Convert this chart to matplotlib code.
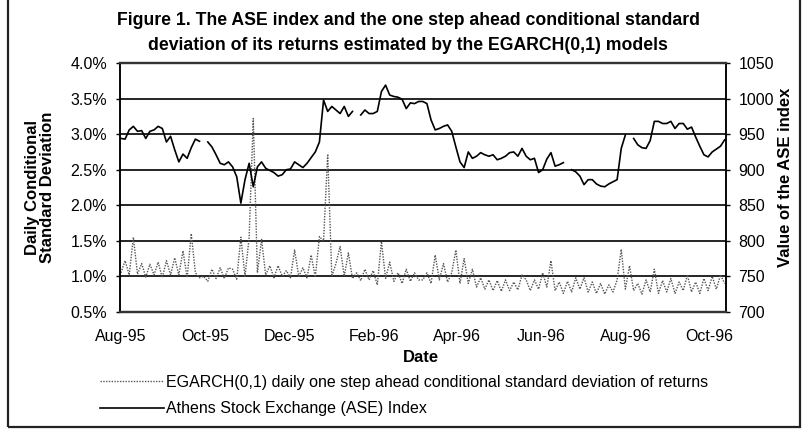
import numpy as np
import pandas as pd
import matplotlib
matplotlib.use("Agg")
import matplotlib.pyplot as plt
import matplotlib.dates as mdates
from matplotlib.ticker import FuncFormatter, MultipleLocator
from matplotlib.patches import Rectangle

plt.rcParams['font.family'] = ['Liberation Sans', 'DejaVu Sans']

# observation dates (read every ~3 days off the chart)
dates = pd.date_range('1995-08-01', periods=147, freq='3D')

# Athens Stock Exchange index (right axis), nan = gap in the line
ase = [944, 943, 956, 961, 954, 955, 944, 954, 956, 961,
       958, 939, 947, 928, 911, 922, 916, 931, 943, 940,
       np.nan, 939, 932, 921, 909, 907, 911, 904, 890, 853,
       886, 909, 876, 904, 911, 902, 899, 896, 891, 893,
       900, 901, 911, 907, 903, 909, 917, 925, 939, 998,
       982, 989, 984, 979, 989, 975, 982, np.nan, 977, 984,
       979, 979, 982, 1010, 1019, 1005, 1003, 1002, 999, 986,
       994, 993, 996, 996, 993, 970, 956, 958, 961, 963,
       954, 932, 911, 903, 925, 916, 919, 924, 921, 919,
       921, 914, 916, 919, 924, 925, 919, 930, 919, 914,
       916, 896, 900, 915, 924, 905, 907, 910, np.nan, 900,
       897, 891, 879, 886, 886, 880, 877, 876, 880, 883,
       886, 930, 949, np.nan, 944, 935, 931, 930, 941, 968,
       968, 965, 965, 968, 958, 965, 965, 957, 960, 946,
       933, 921, 918, 925, 929, 933, 942]

# EGARCH(0,1) one step ahead conditional std. deviation, in %
vol = [1.05, 1.22, 1.02, 1.55, 1.03, 1.18, 0.99, 1.17, 1.02, 1.20,
       0.98, 1.22, 1.02, 1.26, 1.02, 1.36, 0.98, 1.60, 1.05, 0.98,
       1.00, 0.93, 1.10, 0.97, 1.12, 0.97, 1.12, 1.10, 0.96, 1.55,
       1.00, 1.55, 3.22, 1.05, 1.52, 1.02, 1.15, 0.98, 1.15, 1.00,
       1.08, 0.98, 1.37, 1.00, 1.12, 0.98, 1.30, 0.99, 1.56, 1.50,
       2.72, 1.00, 1.18, 1.42, 1.00, 1.33, 0.97, 1.05, 0.94, 1.10,
       0.95, 1.08, 0.88, 1.49, 0.97, 1.20, 0.93, 1.05, 0.90, 1.10,
       0.93, 1.05, 0.95, 0.95, 1.05, 0.90, 1.30, 0.95, 1.18, 0.92,
       1.05, 1.37, 0.90, 1.25, 0.90, 1.10, 0.85, 0.98, 0.82, 0.95,
       0.80, 0.94, 0.79, 0.95, 0.80, 0.92, 0.81, 1.02, 0.95, 0.80,
       0.95, 0.82, 1.05, 0.85, 1.22, 0.80, 0.92, 0.76, 0.93, 0.78,
       0.98, 0.82, 0.98, 0.78, 0.92, 0.76, 0.90, 0.75, 0.88, 0.78,
       0.95, 1.38, 0.82, 1.15, 0.80, 0.90, 0.75, 0.95, 0.78, 1.10,
       0.76, 0.94, 0.78, 0.97, 0.76, 0.92, 0.80, 1.02, 0.78, 0.92,
       0.76, 0.97, 0.80, 1.00, 0.82, 1.02, 0.90]

month_ticks = pd.date_range('1995-08-01', '1996-10-01', freq='2MS')

fig = plt.figure(figsize=(8.08, 4.32), dpi=100)
ax = fig.add_axes([0.148, 0.278, 0.7505, 0.576])
ax2 = ax.twinx()

vol_line, = ax.plot(dates, vol, color='#555555', lw=1.0, linestyle=(0, (1, 1)))
ase_line, = ax2.plot(dates, ase, color='black', lw=1.2)

ax.set_xlim(pd.Timestamp('1995-07-31'), pd.Timestamp('1996-10-13'))
ax.set_ylim(0.5, 4.0)
ax2.set_ylim(700, 1050)
ax.yaxis.set_major_locator(MultipleLocator(0.5))
ax.yaxis.set_major_formatter(FuncFormatter(lambda v, p: '%.1f%%' % v))
ax2.yaxis.set_major_locator(MultipleLocator(50))
ax.set_xticks(month_ticks)
ax.xaxis.set_major_formatter(mdates.DateFormatter('%b-%y'))

ax.set_axisbelow(True)
ax.yaxis.grid(True, color='black', lw=1.2)
ax.tick_params(axis='x', length=0, pad=12, labelsize=11.5)
ax.tick_params(axis='y', direction='out', length=3, width=1, pad=6, labelsize=11.5)
ax2.tick_params(axis='y', direction='out', length=3, width=1, pad=6, labelsize=11.5)
for a in (ax, ax2):
    a.spines['top'].set_color('#333333')
    a.spines['top'].set_linewidth(1.6)
    a.spines['bottom'].set_color('#333333')
    a.spines['bottom'].set_linewidth(1.6)
    a.spines['left'].set_linewidth(1.1)
    a.spines['right'].set_linewidth(1.1)

fig.text(0.505, 1 - 20.7 / 432, 'Figure 1. The ASE index and the one step ahead conditional standard',
         ha='center', va='center', fontsize=12.7, fontweight='bold')
fig.text(0.505, 1 - 45 / 432, 'deviation of its returns estimated by the EGARCH(0,1) models',
         ha='center', va='center', fontsize=12.7, fontweight='bold')
fig.text(40 / 808, 1 - 187.5 / 432, 'Daily Conditional\nStandard Deviation', rotation=90,
         ha='center', va='center', fontsize=12, fontweight='bold', linespacing=1.05)
fig.text(785 / 808, 1 - 177 / 432, 'Value of the ASE index', rotation=90,
         ha='center', va='center', fontsize=12, fontweight='bold')
fig.text(421 / 808, 1 - 358 / 432, 'Date', ha='center', va='center',
         fontsize=12, fontweight='bold')

fig.legend([vol_line, ase_line],
           ['EGARCH(0,1) daily one step ahead conditional standard deviation of returns',
            'Athens Stock Exchange (ASE) Index'],
           loc='upper left', bbox_to_anchor=(100 / 808, 1 - 375 / 432), frameon=False,
           fontsize=11.5, handlelength=4.0, handletextpad=0.15, borderpad=0,
           borderaxespad=0, labelspacing=0.7)

fig.add_artist(Rectangle((8 / 808, 1 - 427 / 432), 792 / 808, 1.2,
                         transform=fig.transFigure, fill=False, lw=1.6, ec='#222222'))

fig.savefig('out.png', dpi=100)
